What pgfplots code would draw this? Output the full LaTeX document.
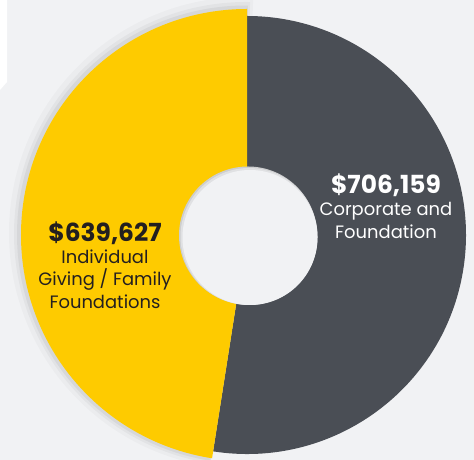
\documentclass[border=0pt]{standalone}
\usepackage{pgfplots}
\pgfplotsset{compat=1.18}
\usepackage{pgfplotstable}
\usepackage{fontspec}
\setmainfont{Poppins}

\definecolor{bgc}{HTML}{F1F2F4}
\definecolor{gold}{HTML}{FECB00}
\definecolor{slate}{HTML}{4A4E55}
\definecolor{ink}{HTML}{231F20}

% donut values (USD)
\pgfplotstableread{
label value
Individual 639627
Corporate 706159
}\donutdata
\pgfplotstablegetelem{0}{value}\of\donutdata \let\valA\pgfplotsretval
\pgfplotstablegetelem{1}{value}\of\donutdata \let\valB\pgfplotsretval
\edef\splitangle{\fpeval{90+360*\valA/(\valA+\valB)}}
\edef\splitC{\fpeval{\splitangle-4}}
\edef\splitD{\fpeval{\splitangle-2.5}}

\begin{document}
\begin{tikzpicture}
\begin{axis}[
  x=1bp, y=1bp,
  xmin=0, xmax=474, ymin=0, ymax=460,
  hide axis, clip=true,
]
% background
\fill[bgc] (axis cs:0,0) rectangle (axis cs:474,460);
\fill[white] (axis cs:0,460) -- (axis cs:7,460) -- (axis cs:7,378) -- (axis cs:0,370) -- cycle;
% soft shadow behind the yellow slice
\fill[black, opacity=0.025] (axis cs:245,227) -- ++(88:236bp)
  arc[start angle=88, end angle=\splitangle, radius=236bp] -- cycle;
\fill[black, opacity=0.035] (axis cs:246,226) -- ++(89:232bp)
  arc[start angle=89, end angle=\splitangle, radius=232bp] -- cycle;
\fill[black, opacity=0.05] (axis cs:246,225.5) -- ++(89.5:229bp)
  arc[start angle=89.5, end angle=\splitangle, radius=229bp] -- cycle;
% slices
\fill[slate] (axis cs:247,225) -- ++(\splitangle:219bp)
  arc[start angle=\splitangle, end angle=450, radius=219bp] -- cycle;
\fill[black, opacity=0.05] (axis cs:247,225) -- ++(\splitangle:219bp)
  arc[start angle=\splitangle, end angle=\splitC, radius=219bp] -- cycle;
\fill[black, opacity=0.06] (axis cs:247,225) -- ++(\splitangle:219bp)
  arc[start angle=\splitangle, end angle=\splitD, radius=219bp] -- cycle;
\fill[gold] (axis cs:247,225) -- ++(90:226bp)
  arc[start angle=90, end angle=\splitangle, radius=226bp] -- cycle;
% hole
\fill[bgc!85!black] (axis cs:248,224.5) circle[radius=69bp];
\fill[bgc!93!black] (axis cs:249,223.5) circle[radius=68.5bp];
\fill[bgc] (axis cs:250,222.5) circle[radius=67.5bp];
% labels
\node[align=center, text=white, font=\fontsize{18}{22.5}\selectfont]
  at (axis cs:386,254)
  {{\fontsize{25}{27}\selectfont\bfseries \$706,159}\\Corporate and\\Foundation};
\node[align=center, text=ink, font=\fontsize{18}{22.5}\selectfont]
  at (axis cs:105,195)
  {{\fontsize{25}{27}\selectfont\bfseries \$639,627}\\Individual\\Giving / Family\\Foundations};
\end{axis}
\end{tikzpicture}
\end{document}
